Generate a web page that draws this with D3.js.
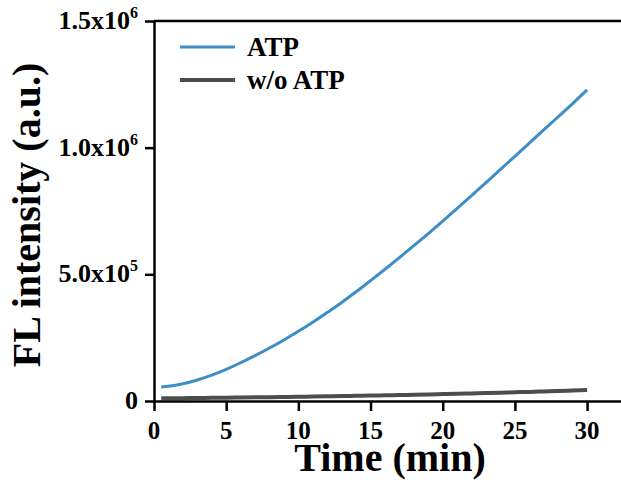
<!DOCTYPE html>
<html>
<head>
<meta charset="utf-8">
<script src="https://cdn.jsdelivr.net/npm/d3@7"></script>
<style>
  body { margin: 0; background: #fff; }
  svg { display: block; }
  text { font-family: "Liberation Serif", "Times New Roman", serif; font-weight: bold; fill: #000; }
</style>
</head>
<body>
<div id="chart"></div>
<script>
// data
var time = [0.5, 1, 2, 3, 4, 5, 6, 7, 8, 9, 10, 11, 12, 13, 14, 15, 16, 17, 18, 19, 20,
            21, 22, 23, 24, 25, 26, 27, 28, 29, 30];
var atp = [55000, 58000, 68000, 83000, 102000, 125000, 151000, 179000, 209000, 241000, 275000,
           311000, 349000, 389000, 431000, 475000, 520000, 566000, 613000, 661000, 710000,
           760000, 811000, 862000, 914000, 966000, 1018000, 1070000, 1122000, 1174000, 1228000];
var noAtp = [10500, 10800, 11300, 11800, 12400, 13000, 13700, 14400, 15100, 15900, 16700,
             17600, 18500, 19400, 20400, 21400, 22500, 23600, 24700, 25900, 27200,
             28500, 29900, 31300, 32800, 34400, 36000, 37700, 39400, 41200, 43000];
var xTicks = [0, 5, 10, 15, 20, 25, 30];
var yTicks = [0, 5e5, 1e6, 1.5e6];
var yTickLabels = [["0", ""], ["5.0x10", "5"], ["1.0x10", "6"], ["1.5x10", "6"]];
var seriesNames = ["ATP", "w/o ATP"];
var seriesColors = ["#3d8dc7", "#4d4d4d"];

var width = 621, height = 483;
var plotLeft = 154, plotTop = 21, plotBottom = 401;

var svg = d3.select("#chart").append("svg")
    .attr("width", width)
    .attr("height", height);

var x = d3.scaleLinear().domain([0, 32.35]).range([plotLeft, width]);
var y = d3.scaleLinear().domain([0, 1.5e6]).range([plotBottom, plotTop]);

// series lines
var line = d3.line()
    .x(function (d) { return x(d[0]); })
    .y(function (d) { return y(d[1]); })
    .curve(d3.curveMonotoneX);

var series = [d3.zip(time, atp), d3.zip(time, noAtp)];
var widths = [3, 4];

svg.selectAll(".series")
    .data(series)
    .enter().append("path")
    .attr("class", "series")
    .attr("fill", "none")
    .attr("stroke", function (d, i) { return seriesColors[i]; })
    .attr("stroke-width", function (d, i) { return widths[i]; })
    .attr("d", line);

// top frame line
svg.append("line")
    .attr("x1", plotLeft).attr("x2", width)
    .attr("y1", plotTop).attr("y2", plotTop)
    .attr("stroke", "#000").attr("stroke-width", 2.5);

// x axis
svg.append("g")
    .attr("transform", "translate(0," + plotBottom + ")")
    .call(d3.axisBottom(x).tickValues(xTicks).tickSize(10).tickSizeOuter(0).tickFormat(""));

svg.selectAll(".xlab")
    .data(xTicks)
    .enter().append("text")
    .attr("class", "xlab")
    .attr("x", function (d) { return x(d); })
    .attr("y", 439)
    .attr("text-anchor", "middle")
    .style("font-size", "25px")
    .text(function (d) { return d; });

// y axis
svg.append("g")
    .attr("transform", "translate(" + plotLeft + ",0)")
    .call(d3.axisLeft(y).tickValues(yTicks).tickSize(9).tickSizeOuter(0).tickFormat(""));

var ylab = svg.selectAll(".ylab")
    .data(yTicks)
    .enter().append("text")
    .attr("class", "ylab")
    .attr("x", 138)
    .attr("y", function (d) { return y(d) + 8; })
    .attr("text-anchor", "end")
    .style("font-size", "26px");

ylab.append("tspan")
    .text(function (d, i) { return yTickLabels[i][0]; });
ylab.append("tspan")
    .attr("dy", -11)
    .style("font-size", "16px")
    .text(function (d, i) { return yTickLabels[i][1]; });

svg.selectAll(".domain, .tick line")
    .attr("stroke", "#000")
    .attr("stroke-width", 2.5);

// axis titles
svg.append("text")
    .attr("x", 390)
    .attr("y", 471)
    .attr("text-anchor", "middle")
    .style("font-size", "40px")
    .text("Time (min)");

svg.append("text")
    .attr("transform", "translate(40,215) rotate(-90)")
    .attr("text-anchor", "middle")
    .style("font-size", "40px")
    .text("FL intensity (a.u.)");

// legend
var legend = svg.selectAll(".legend")
    .data(seriesNames)
    .enter().append("g")
    .attr("class", "legend")
    .attr("transform", function (d, i) { return "translate(180," + (47 + i * 33) + ")"; });

legend.append("line")
    .attr("x1", 0).attr("x2", 55)
    .attr("stroke", function (d, i) { return seriesColors[i]; })
    .attr("stroke-width", function (d, i) { return widths[i]; });

legend.append("text")
    .attr("x", 67)
    .attr("y", 9)
    .style("font-size", "27px")
    .text(function (d) { return d; });
</script>
</body>
</html>
